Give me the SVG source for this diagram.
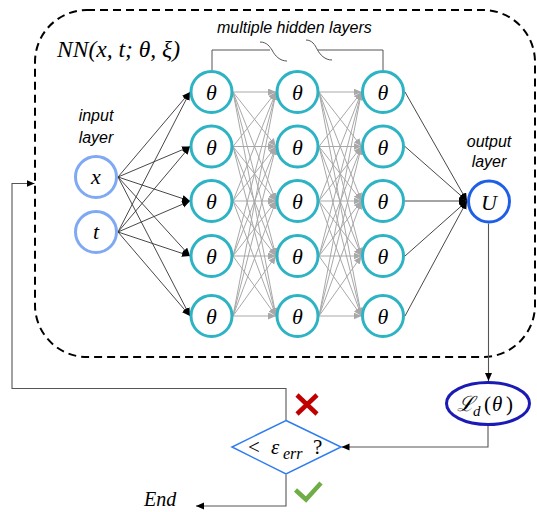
<svg xmlns="http://www.w3.org/2000/svg" width="537" height="512" viewBox="0 0 537 512">
<style>
.hn{fill:#fff;stroke:#2DB3C3;stroke-width:3}
.in{fill:#fff;stroke:#7FA9F2;stroke-width:3}
.mt{font-family:"Liberation Serif","DejaVu Serif",serif;font-style:italic;fill:#000}
.lb{font-family:"Liberation Sans",Arial,sans-serif;font-style:italic;font-size:16px;fill:#000}
.ie{stroke:#333;stroke-width:0.9;fill:none}
.ge{stroke:#A8A8A8;stroke-width:1;fill:none}
.fl{stroke:#555;stroke-width:1.1;fill:none}
</style>
<defs>
<marker id="ab" markerUnits="userSpaceOnUse" markerWidth="10" markerHeight="8" refX="8" refY="3.5" orient="auto"><path d="M0,0 L8,3.5 L0,7 z" fill="#000"/></marker>
<marker id="ag" markerUnits="userSpaceOnUse" markerWidth="10" markerHeight="8" refX="8" refY="3.5" orient="auto"><path d="M0,0 L8,3.5 L0,7 z" fill="#A8A8A8"/></marker>
</defs>
<rect x="35" y="10" width="500" height="347" rx="52" ry="52" fill="none" stroke="#000" stroke-width="2" stroke-dasharray="8,5"/>
<text class="mt" x="57" y="57" font-size="23" textLength="123" lengthAdjust="spacingAndGlyphs">NN(x, t; θ, ξ)</text>
<text class="lb" x="217" y="33">multiple hidden layers</text>
<g id="brace" fill="none" stroke="#555" stroke-width="1">
<path d="M212,70 V50 H270"/>
<path d="M260,42 C267,42 270,47 272,50 C275,56 280,61 287,61"/>
<path d="M306,40 C312,40 315,45 317,49 C320,55 325,60 332,60"/>
<path d="M318,50 H383 V70"/>
</g>
<text class="lb" x="96" y="121" text-anchor="middle">input</text>
<text class="lb" x="96" y="143" text-anchor="middle">layer</text>
<text class="lb" x="489" y="147" text-anchor="middle">output</text>
<text class="lb" x="489" y="167" text-anchor="middle">layer</text>
<g id="connectors">
<g class="ie" marker-end="url(#ab)">
<line x1="118" y1="177" x2="190" y2="92"/>
<line x1="118" y1="177" x2="190" y2="146.5"/>
<line x1="118" y1="177" x2="190" y2="201"/>
<line x1="118" y1="177" x2="190" y2="256"/>
<line x1="118" y1="177" x2="190" y2="316"/>
<line x1="118" y1="232" x2="190" y2="92"/>
<line x1="118" y1="232" x2="190" y2="146.5"/>
<line x1="118" y1="232" x2="190" y2="201"/>
<line x1="118" y1="232" x2="190" y2="256"/>
<line x1="118" y1="232" x2="190" y2="316"/>
</g>
<g class="ge" marker-end="url(#ag)">
<line x1="233" y1="92" x2="276" y2="92"/>
<line x1="233" y1="92" x2="276" y2="146.5"/>
<line x1="233" y1="92" x2="276" y2="201"/>
<line x1="233" y1="92" x2="276" y2="256"/>
<line x1="233" y1="92" x2="276" y2="316"/>
<line x1="233" y1="146.5" x2="276" y2="92"/>
<line x1="233" y1="146.5" x2="276" y2="146.5"/>
<line x1="233" y1="146.5" x2="276" y2="201"/>
<line x1="233" y1="146.5" x2="276" y2="256"/>
<line x1="233" y1="146.5" x2="276" y2="316"/>
<line x1="233" y1="201" x2="276" y2="92"/>
<line x1="233" y1="201" x2="276" y2="146.5"/>
<line x1="233" y1="201" x2="276" y2="201"/>
<line x1="233" y1="201" x2="276" y2="256"/>
<line x1="233" y1="201" x2="276" y2="316"/>
<line x1="233" y1="256" x2="276" y2="92"/>
<line x1="233" y1="256" x2="276" y2="146.5"/>
<line x1="233" y1="256" x2="276" y2="201"/>
<line x1="233" y1="256" x2="276" y2="256"/>
<line x1="233" y1="256" x2="276" y2="316"/>
<line x1="233" y1="316" x2="276" y2="92"/>
<line x1="233" y1="316" x2="276" y2="146.5"/>
<line x1="233" y1="316" x2="276" y2="201"/>
<line x1="233" y1="316" x2="276" y2="256"/>
<line x1="233" y1="316" x2="276" y2="316"/>
<line x1="319" y1="92" x2="361.5" y2="92"/>
<line x1="319" y1="92" x2="361.5" y2="146.5"/>
<line x1="319" y1="92" x2="361.5" y2="201"/>
<line x1="319" y1="92" x2="361.5" y2="256"/>
<line x1="319" y1="92" x2="361.5" y2="316"/>
<line x1="319" y1="146.5" x2="361.5" y2="92"/>
<line x1="319" y1="146.5" x2="361.5" y2="146.5"/>
<line x1="319" y1="146.5" x2="361.5" y2="201"/>
<line x1="319" y1="146.5" x2="361.5" y2="256"/>
<line x1="319" y1="146.5" x2="361.5" y2="316"/>
<line x1="319" y1="201" x2="361.5" y2="92"/>
<line x1="319" y1="201" x2="361.5" y2="146.5"/>
<line x1="319" y1="201" x2="361.5" y2="201"/>
<line x1="319" y1="201" x2="361.5" y2="256"/>
<line x1="319" y1="201" x2="361.5" y2="316"/>
<line x1="319" y1="256" x2="361.5" y2="92"/>
<line x1="319" y1="256" x2="361.5" y2="146.5"/>
<line x1="319" y1="256" x2="361.5" y2="201"/>
<line x1="319" y1="256" x2="361.5" y2="256"/>
<line x1="319" y1="256" x2="361.5" y2="316"/>
<line x1="319" y1="316" x2="361.5" y2="92"/>
<line x1="319" y1="316" x2="361.5" y2="146.5"/>
<line x1="319" y1="316" x2="361.5" y2="201"/>
<line x1="319" y1="316" x2="361.5" y2="256"/>
<line x1="319" y1="316" x2="361.5" y2="316"/>
</g>
<g class="ie" marker-end="url(#ab)">
<line x1="405" y1="92" x2="467" y2="201"/>
<line x1="405" y1="146.5" x2="467" y2="201"/>
<line x1="405" y1="201" x2="467" y2="201"/>
<line x1="405" y1="256" x2="467" y2="201"/>
<line x1="405" y1="316" x2="467" y2="201"/>
</g>
<g class="fl" marker-end="url(#ab)">
<path d="M488.5,223.5 V381"/>
<path d="M488,425.5 V447 H341.5"/>
<path d="M286,474.5 V506 H196"/>
<path d="M286,420.5 V388.5 H12 V183.5 H34.5"/>
</g>
</g>
<g id="input-x"><circle class="in" cx="96" cy="177" r="20.5"/><text class="mt" x="96" y="184" font-size="22" text-anchor="middle">x</text></g>
<g id="input-t"><circle class="in" cx="96" cy="232" r="20.5"/><text class="mt" x="96" y="239" font-size="22" text-anchor="middle">t</text></g>
<g id="h1-1"><circle class="hn" cx="211.5" cy="92" r="20.5"/><text class="mt" x="211.5" y="100" font-size="22" text-anchor="middle">θ</text></g>
<g id="h1-2"><circle class="hn" cx="211.5" cy="146.5" r="20.5"/><text class="mt" x="211.5" y="154.5" font-size="22" text-anchor="middle">θ</text></g>
<g id="h1-3"><circle class="hn" cx="211.5" cy="201" r="20.5"/><text class="mt" x="211.5" y="209" font-size="22" text-anchor="middle">θ</text></g>
<g id="h1-4"><circle class="hn" cx="211.5" cy="256" r="20.5"/><text class="mt" x="211.5" y="264" font-size="22" text-anchor="middle">θ</text></g>
<g id="h1-5"><circle class="hn" cx="211.5" cy="316" r="20.5"/><text class="mt" x="211.5" y="324" font-size="22" text-anchor="middle">θ</text></g>
<g id="h2-1"><circle class="hn" cx="297.5" cy="92" r="20.5"/><text class="mt" x="297.5" y="100" font-size="22" text-anchor="middle">θ</text></g>
<g id="h2-2"><circle class="hn" cx="297.5" cy="146.5" r="20.5"/><text class="mt" x="297.5" y="154.5" font-size="22" text-anchor="middle">θ</text></g>
<g id="h2-3"><circle class="hn" cx="297.5" cy="201" r="20.5"/><text class="mt" x="297.5" y="209" font-size="22" text-anchor="middle">θ</text></g>
<g id="h2-4"><circle class="hn" cx="297.5" cy="256" r="20.5"/><text class="mt" x="297.5" y="264" font-size="22" text-anchor="middle">θ</text></g>
<g id="h2-5"><circle class="hn" cx="297.5" cy="316" r="20.5"/><text class="mt" x="297.5" y="324" font-size="22" text-anchor="middle">θ</text></g>
<g id="h3-1"><circle class="hn" cx="383" cy="92" r="20.5"/><text class="mt" x="383" y="100" font-size="22" text-anchor="middle">θ</text></g>
<g id="h3-2"><circle class="hn" cx="383" cy="146.5" r="20.5"/><text class="mt" x="383" y="154.5" font-size="22" text-anchor="middle">θ</text></g>
<g id="h3-3"><circle class="hn" cx="383" cy="201" r="20.5"/><text class="mt" x="383" y="209" font-size="22" text-anchor="middle">θ</text></g>
<g id="h3-4"><circle class="hn" cx="383" cy="256" r="20.5"/><text class="mt" x="383" y="264" font-size="22" text-anchor="middle">θ</text></g>
<g id="h3-5"><circle class="hn" cx="383" cy="316" r="20.5"/><text class="mt" x="383" y="324" font-size="22" text-anchor="middle">θ</text></g>
<g id="output-U"><circle cx="489" cy="201.5" r="20.5" fill="#fff" stroke="#1F5FE8" stroke-width="3"/><text class="mt" x="489" y="209.5" font-size="22" text-anchor="middle">U</text></g>
<g id="loss"><ellipse cx="488" cy="403.5" rx="41.5" ry="21" fill="#fff" stroke="#1A1AB5" stroke-width="3"/>
<text class="mt" font-size="21" y="411"><tspan x="457">ℒ</tspan><tspan x="473" y="416" font-size="15">d</tspan><tspan x="484" y="411" font-style="normal">(</tspan><tspan x="492" y="411">θ</tspan><tspan x="506" y="411" font-style="normal">)</tspan></text></g>
<g id="decision"><polygon points="286,420.5 341,447 286,474 232,447" fill="#fff" stroke="#2E7CF0" stroke-width="1.5"/>
<text class="mt" font-size="21" y="454"><tspan x="248" font-style="normal">&lt;</tspan><tspan x="271">ε</tspan><tspan x="283" y="459" font-size="16">err</tspan><tspan x="313" y="454" font-style="normal">?</tspan></text></g>
<g id="cross" stroke="#C00000" stroke-width="4.5" fill="none"><path d="M297,395 L317,414 M317,395 L297,414"/></g>
<g id="check" stroke="#70AD47" stroke-width="4.5" fill="none"><path d="M295.5,490 L306,499.5 L321,483"/></g>
<text class="mt" x="144" y="506" font-size="20">End</text>
</svg>
